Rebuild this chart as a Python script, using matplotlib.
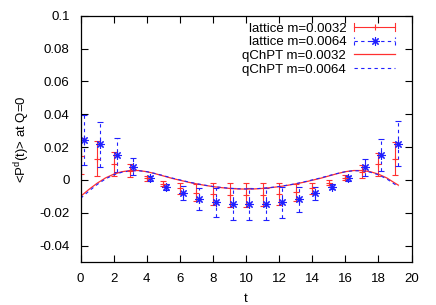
import matplotlib
matplotlib.use('Agg')
import matplotlib.pyplot as plt
import numpy as np
from matplotlib.lines import Line2D
from matplotlib.legend_handler import HandlerBase

plt.rcParams['font.family'] = ['Liberation Sans', 'DejaVu Sans']
plt.rcParams['mathtext.fontset'] = 'custom'
plt.rcParams['mathtext.rm'] = 'Liberation Sans'

# lattice data, m=0.0032 (red) and m=0.0064 (blue, drawn slightly shifted in t)
t_lat = np.arange(20)
red_y = [0.0146, 0.0130, 0.0096, 0.0057, 0.0010, -0.0024, -0.0051, -0.0077, -0.0085, -0.0091,
         -0.0091, -0.0091, -0.0087, -0.0075, -0.0051, -0.0016, 0.0014, 0.0051, 0.0096, 0.0130]
red_err = [0.0110, 0.0105, 0.0072, 0.0040, 0.0015, 0.0015, 0.0035, 0.0052, 0.0066, 0.0072,
           0.0073, 0.0071, 0.0066, 0.0053, 0.0033, 0.0015, 0.0015, 0.0040, 0.0070, 0.0100]
blue_shift = 0.18
blue_y = [0.0244, 0.0218, 0.0152, 0.0081, 0.0010, -0.0041, -0.0081, -0.0118, -0.0136, -0.0146,
          -0.0146, -0.0146, -0.0136, -0.0118, -0.0081, -0.0041, 0.0010, 0.0077, 0.0152, 0.0220]
blue_err = [0.0152, 0.0137, 0.0105, 0.0050, 0.0015, 0.0018, 0.0043, 0.0068, 0.0087, 0.0098,
            0.0098, 0.0098, 0.0095, 0.0075, 0.0040, 0.0015, 0.0015, 0.0052, 0.0098, 0.0137]

# qChPT curves
t_fit = np.append(np.arange(0, 19.5, 0.5), 19.2)
fit_red = [-0.0100, -0.0058, -0.0020, 0.0012, 0.0035, 0.0050, 0.0057, 0.0057, 0.0050, 0.0038,
           0.0024, 0.0010, -0.0002, -0.0014, -0.0024, -0.0033, -0.0041, -0.0047, -0.0052, -0.0055,
           -0.0056, -0.0055, -0.0052, -0.0047, -0.0041, -0.0033, -0.0024, -0.0014, -0.0002, 0.0010,
           0.0024, 0.0038, 0.0050, 0.0057, 0.0057, 0.0050, 0.0035, 0.0012, -0.0020, -0.0032]
fit_blue = [-0.0112, -0.0068, -0.0028, 0.0006, 0.0031, 0.0047, 0.0055, 0.0056, 0.0050, 0.0039,
            0.0026, 0.0012, 0.0000, -0.0012, -0.0023, -0.0032, -0.0040, -0.0046, -0.0051, -0.0054,
            -0.0055, -0.0054, -0.0051, -0.0046, -0.0040, -0.0032, -0.0023, -0.0012, 0.0000, 0.0012,
            0.0026, 0.0039, 0.0050, 0.0056, 0.0055, 0.0047, 0.0031, 0.0006, -0.0028, -0.0042]

RED = '#ff3030'
BLUE = '#2020ff'
DASH = (0, (3, 3))
ASTER = (8, 2, 0)
FS = 9.5


class GnuErrHandler(HandlerBase):
    # gnuplot style key sample: horizontal bar with end caps and point in the middle
    def __init__(self, color, ls, marker, ms):
        super().__init__()
        self.color, self.ls, self.marker, self.ms = color, ls, marker, ms

    def create_artists(self, legend, orig_handle, xdescent, ydescent, width, height, fontsize, trans):
        y = height / 2 - ydescent
        x0, x1 = -xdescent, width - xdescent
        h = 3.0
        arts = [Line2D([x0, x1], [y, y], color=self.color, lw=0.8, ls=self.ls),
                Line2D([x0, x0], [y - h, y + h], color=self.color, lw=0.8, ls=self.ls),
                Line2D([x1, x1], [y - h, y + h], color=self.color, lw=0.8, ls=self.ls),
                Line2D([(x0 + x1) / 2], [y], color=self.color, marker=self.marker,
                       ms=self.ms, mew=0.8, ls='none')]
        for a in arts:
            a.set_transform(trans)
        return arts


fig = plt.figure(figsize=(4.36, 3.05), dpi=100)
ax = fig.add_axes([0.185, 0.141, 0.759, 0.8075])

eb_red = ax.errorbar(t_lat, red_y, yerr=red_err, fmt='+', color=RED, ms=5, mew=0.8,
                     elinewidth=0.8, capsize=2.5, capthick=0.8)
eb_blue = ax.errorbar(t_lat + blue_shift, blue_y, yerr=blue_err, fmt='none', ecolor=BLUE,
                      elinewidth=0.8, capsize=2.5, capthick=0.8)
eb_blue[2][0].set_linestyle(DASH)
ax.plot(t_lat + blue_shift, blue_y, ls='none', marker=ASTER, ms=6, mew=0.8, color=BLUE)

l_red, = ax.plot(t_fit, fit_red, color=RED, lw=0.9)
l_blue, = ax.plot(t_fit, fit_blue, color=BLUE, lw=0.8, ls=DASH)

ax.set_xlim(0, 20)
ax.set_ylim(-0.05, 0.1)
ax.set_xticks(np.arange(0, 21, 2))
ax.set_yticks(np.arange(-0.04, 0.101, 0.02))
ax.set_yticklabels(['-0.04', '-0.02', '0', '0.02', '0.04', '0.06', '0.08', '0.1'])
ax.tick_params(direction='in', length=5, width=0.8, top=True, right=True, labelsize=FS, pad=8)
for s in ax.spines.values():
    s.set_linewidth(0.9)

ax.set_xlabel('t', fontsize=FS, labelpad=6)
ax.set_ylabel(r'<P$^{\mathrm{d}}$(t)> at Q=0', fontsize=FS, labelpad=5)

leg = ax.legend([eb_red, eb_blue, l_red, l_blue],
                ['lattice m=0.0032', 'lattice m=0.0064', 'qChPT m=0.0032', 'qChPT m=0.0064'],
                handler_map={eb_red: GnuErrHandler(RED, '-', '+', 5),
                             eb_blue: GnuErrHandler(BLUE, DASH, ASTER, 6)},
                loc='upper right', bbox_to_anchor=(0.95, 0.972), frameon=False,
                markerfirst=False, fontsize=FS, handlelength=3.1, handletextpad=0.6,
                labelspacing=0.1, borderpad=0, borderaxespad=0)

fig.savefig('out.png', dpi=100)
